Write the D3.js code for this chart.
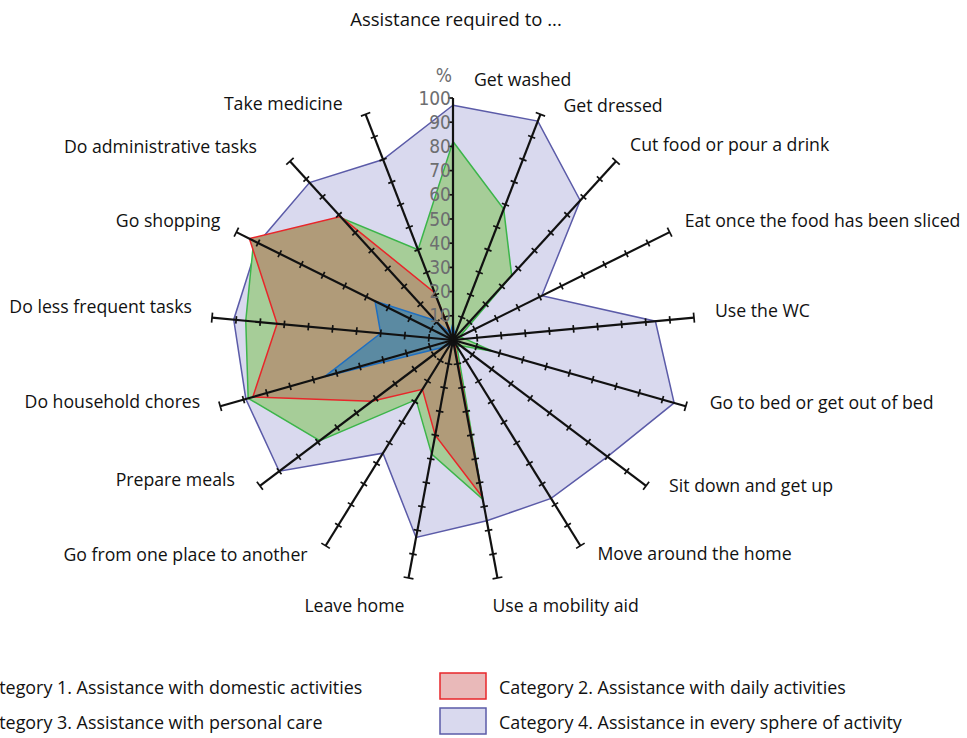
<!DOCTYPE html>
<html>
<head>
<meta charset="utf-8">
<script src="https://cdn.jsdelivr.net/npm/d3@7"></script>
<style>
  body { margin: 0; background: #fff; }
  svg { display: block; font-family: "Open Sans", sans-serif; }
</style>
</head>
<body>
<div id="chart"></div>
<script>
// Activities, clockwise from the top
var activities = [
  'Get washed', 'Get dressed', 'Cut food or pour a drink', 'Eat once the food has been sliced',
  'Use the WC', 'Go to bed or get out of bed', 'Sit down and get up', 'Move around the home',
  'Use a mobility aid', 'Leave home', 'Go from one place to another', 'Prepare meals',
  'Do household chores', 'Do less frequent tasks', 'Go shopping', 'Do administrative tasks',
  'Take medicine'
]

// % needing assistance, one array per category
var cat1 = [7, 2, 1, 1, 2, 1, 1, 1, 2, 2, 2, 5, 55, 30, 36, 11, 3]
var cat2 = [1, 0, 0, 0, 0, 0, 0, 1, 66, 40, 24, 42, 86, 73, 94, 69, 21]
var cat3 = [82, 58, 36, 3, 5, 17, 4, 3, 67, 48, 29, 69, 88, 86, 92, 68, 40]
var cat4 = [97, 97, 78, 41, 84, 95, 80, 77, 76, 83, 55, 90, 89, 91, 90, 88, 80]

var seriesNames = [
  'Category 1. Assistance with domestic activities',
  'Category 2. Assistance with daily activities',
  'Category 3. Assistance with personal care',
  'Category 4. Assistance in every sphere of activity'
]

var tickValues = [10, 20, 30, 40, 50, 60, 70, 80, 90, 100]

// fills / strokes per category (fill = how it looks in the plot, swatch = legend)
var styles = [
  { fill: '#5b8aa2', swatch: '#5b8aa2', stroke: '#1f6fc0' },
  { fill: '#b09b79', swatch: '#e9b9b9', stroke: '#e8262a' },
  { fill: '#a6cd98', swatch: '#a6cd98', stroke: '#3cb54a' },
  { fill: '#d9d9ee', swatch: '#d9d9ee', stroke: '#5b5ba8' }
]

// label nudges from the end of each spoke
var labelNudge = [
  [21, -18], [23, -9], [14, -16], [15, -11], [21, -7], [24, -3], [23, 0], [17, 8],
  [-5, 28], [-4, 28], [-18, 9], [-25, -6], [-20, -4], [-20, -11], [-16, -11], [-33, -14], [-23, -11]
]

var width = 967
var height = 738
var cx = 453
var cy = 340

var svg = d3.select('#chart')
  .append('svg')
  .attr('width', width)
  .attr('height', height)

var rScale = d3.scaleLinear().domain([0, 100]).range([0, 242])
var angleScale = d3.scaleLinear()
  .domain([0, activities.length])
  .range([0, 2 * Math.PI])

function point(i, v) {
  var a = angleScale(i)
  return [cx + rScale(v) * Math.sin(a), cy - rScale(v) * Math.cos(a)]
}

// Title
svg.append('text')
  .text('Assistance required to ...')
  .attr('x', 456)
  .attr('y', 20)
  .attr('dy', '0.35em')
  .attr('text-anchor', 'middle')
  .attr('font-size', 18.5)
  .attr('fill', '#111')

// Polygons, biggest at the bottom
var radial = d3.lineRadial()
  .angle((d, i) => angleScale(i))
  .radius(d => rScale(d))
  .curve(d3.curveLinearClosed)

var plot = svg.append('g').attr('transform', `translate(${cx},${cy})`)
var allSeries = [cat1, cat2, cat3, cat4]

for (var s = 3; s >= 0; s--) {
  plot.append('path')
    .attr('d', radial(allSeries[s]))
    .attr('fill', styles[s].fill)
    .attr('stroke', styles[s].stroke)
    .attr('stroke-width', 1.5)
    .attr('stroke-linejoin', 'miter')
}

// Spokes with ticks
var spokes = svg.append('g')
activities.forEach(function(name, i) {
  var a = angleScale(i)
  var end = point(i, 100)
  spokes.append('line')
    .attr('x1', cx).attr('y1', cy)
    .attr('x2', end[0]).attr('y2', end[1])
    .attr('stroke', '#111')
    .attr('stroke-width', 2.2)

  // perpendicular direction
  var px = Math.cos(a)
  var py = Math.sin(a)

  tickValues.forEach(function(v) {
    var p = point(i, v)
    var len = v === 100 ? 5 : 3.8
    if (i === 0) {
      // the labelled spoke only gets ticks on its left
      spokes.append('line')
        .attr('x1', p[0] - 5).attr('y1', p[1])
        .attr('x2', p[0]).attr('y2', p[1])
        .attr('stroke', '#111')
        .attr('stroke-width', 1.7)
    } else {
      spokes.append('line')
        .attr('x1', p[0] - px * len).attr('y1', p[1] - py * len)
        .attr('x2', p[0] + px * len).attr('y2', p[1] + py * len)
        .attr('stroke', '#111')
        .attr('stroke-width', 1.7)
    }
  })

  var nudge = labelNudge[i]
  svg.append('text')
    .text(name)
    .attr('x', end[0] + nudge[0])
    .attr('y', end[1] + nudge[1])
    .attr('dy', '0.35em')
    .attr('text-anchor', i <= 8 ? 'start' : 'end')
    .attr('font-size', 17.7)
    .attr('fill', '#111')
})

// Scale numbers on the top spoke
svg.append('g')
  .selectAll('text')
  .data(tickValues)
  .enter().append('text')
  .text(d => d)
  .attr('x', cx - 2)
  .attr('y', d => point(0, d)[1])
  .attr('dy', '0.35em')
  .attr('text-anchor', 'end')
  .attr('font-family', '"Liberation Sans Narrow", "DejaVu Sans Condensed", sans-serif')
  .attr('font-size', 19)
  .attr('fill', '#6d6e70')

svg.append('text')
  .text('%')
  .attr('x', cx - 1)
  .attr('y', point(0, 100)[1] - 23)
  .attr('dy', '0.35em')
  .attr('text-anchor', 'end')
  .attr('font-family', '"Liberation Sans Narrow", "DejaVu Sans Condensed", sans-serif')
  .attr('font-size', 19)
  .attr('fill', '#6d6e70')

// Legend: two columns, the left one runs off the page as in the original
var legend = svg.append('g')
var colX = [-81, 440]
var rowY = [673, 708]
seriesNames.forEach(function(name, i) {
  var col = i % 2
  var row = Math.floor(i / 2)
  legend.append('rect')
    .attr('x', colX[col])
    .attr('y', rowY[row])
    .attr('width', 46)
    .attr('height', 26)
    .attr('fill', styles[i].swatch)
    .attr('stroke', styles[i].stroke)
    .attr('stroke-width', 1.5)
  legend.append('text')
    .text(name)
    .attr('x', colX[col] + 59)
    .attr('y', rowY[row] + 15)
    .attr('dy', '0.35em')
    .attr('font-size', 17.9)
    .attr('fill', '#111')
})
</script>
</body>
</html>
